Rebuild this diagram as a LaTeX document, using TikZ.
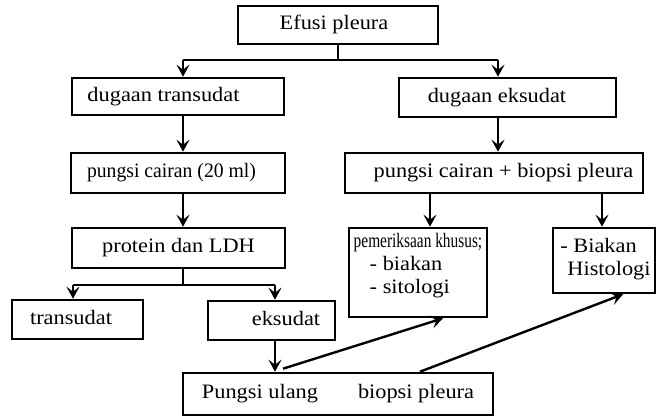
\documentclass[tikz,border=0pt]{standalone}
\usepackage{fontspec}
\setmainfont{Liberation Serif}[FakeStretch=1.09]
\newfontfamily\condA{Liberation Serif}[FakeStretch=0.96]
\newfontfamily\condB{Liberation Serif}[FakeStretch=0.75]
\usetikzlibrary{arrows.meta}
\begin{document}
\begin{tikzpicture}[x=1pt,y=-1pt,
  txt/.style={font=\fontsize{20.5}{23}\selectfont,inner sep=0pt},
  box/.style={txt,draw,line width=2.6pt,text height=14pt,text depth=4.5pt},
  arr/.style={line width=2.4pt,-{Stealth[length=12pt,width=13pt,inset=5pt]}},
  ln/.style={line width=2.4pt}]
\useasboundingbox (0,0) rectangle (657,417);
% boxes
\node[box,minimum width=200pt,minimum height=38pt] (efusi) at (338,25) {Efusi pleura\hspace*{8pt}};
\node[box,minimum width=212pt,minimum height=37pt] (dt) at (178,96.5) {dugaan transudat\hspace*{29pt}};
\node[box,minimum width=214pt,minimum height=40pt] (pc) at (178,173) {{\condA pungsi cairan (20 ml)}\hspace*{13pt}};
\node[box,minimum width=213pt,minimum height=40pt] (pl) at (178.5,248) {protein dan LDH};
\node[box,minimum width=131pt,minimum height=39pt] (tr) at (77.5,319.5) {transudat\hspace*{13pt}};
\node[box,minimum width=127pt,minimum height=39pt] (ek) at (271.5,320.5) {\hspace*{29pt}eksudat};
\node[box,minimum width=217pt,minimum height=39pt] (de) at (507.5,97.5) {dugaan eksudat\hspace*{21pt}};
\node[box,minimum width=298pt,minimum height=40pt] (pcb) at (494,173) {\hspace*{19pt}pungsi cairan + biopsi pleura};
\node[box,minimum width=138pt,minimum height=89pt] (pk) at (418,272.5) {};
\node[txt,align=left] (pkt) at (418,266) {{\condB pemeriksaan khusus;}\\\hspace*{16pt}- biakan\\\hspace*{16pt}- sitologi};
\node[box,minimum width=102pt,minimum height=65pt] (bh) at (604,260.5) {};
\node[txt,align=left] (bht) at (609,259) {\hspace*{-7pt}- Biakan\\Histologi};
\node[box,minimum width=310pt,minimum height=42pt] (pu) at (338,394) {Pungsi ulang\hspace{40pt}biopsi pleura};
% connectors
\coordinate (bl) at (183,60);
\coordinate (br) at (498,60);
\draw[ln] (efusi.south) -- (efusi.south |- bl);
\draw[ln] (bl) -- (br);
\draw[arr] (bl) -- (bl |- dt.north);
\draw[arr] (br) -- (br |- de.north);
\draw[arr] (bl |- dt.south) -- (bl |- pc.north);
\draw[arr] (bl |- pc.south) -- (bl |- pl.north);
\coordinate (pj) at (183,285);
\coordinate (tl) at (73,285);
\coordinate (trr) at (275,285);
\draw[ln] (pj |- pl.south) -- (pj);
\draw[ln] (tl) -- (trr);
\draw[arr] (tl) -- (tl |- tr.north);
\draw[arr] (trr) -- (trr |- ek.north);
\draw[arr] (trr |- ek.south) -- (trr |- pu.north);
\draw[arr] (br |- de.south) -- (br |- pcb.north);
\coordinate (c1) at (430,200);
\coordinate (c2) at (602,200);
\draw[arr] (c1 |- pcb.south) -- (c1 |- pk.north);
\draw[arr] (c2 |- pcb.south) -- (c2 |- bh.north);
\draw[arr] ([xshift=-55pt,yshift=3pt]pu.north) -- ([xshift=25pt]pk.south);
\draw[arr] ([xshift=82pt]pu.north) -- ([xshift=19pt]bh.south);
\end{tikzpicture}
\end{document}
